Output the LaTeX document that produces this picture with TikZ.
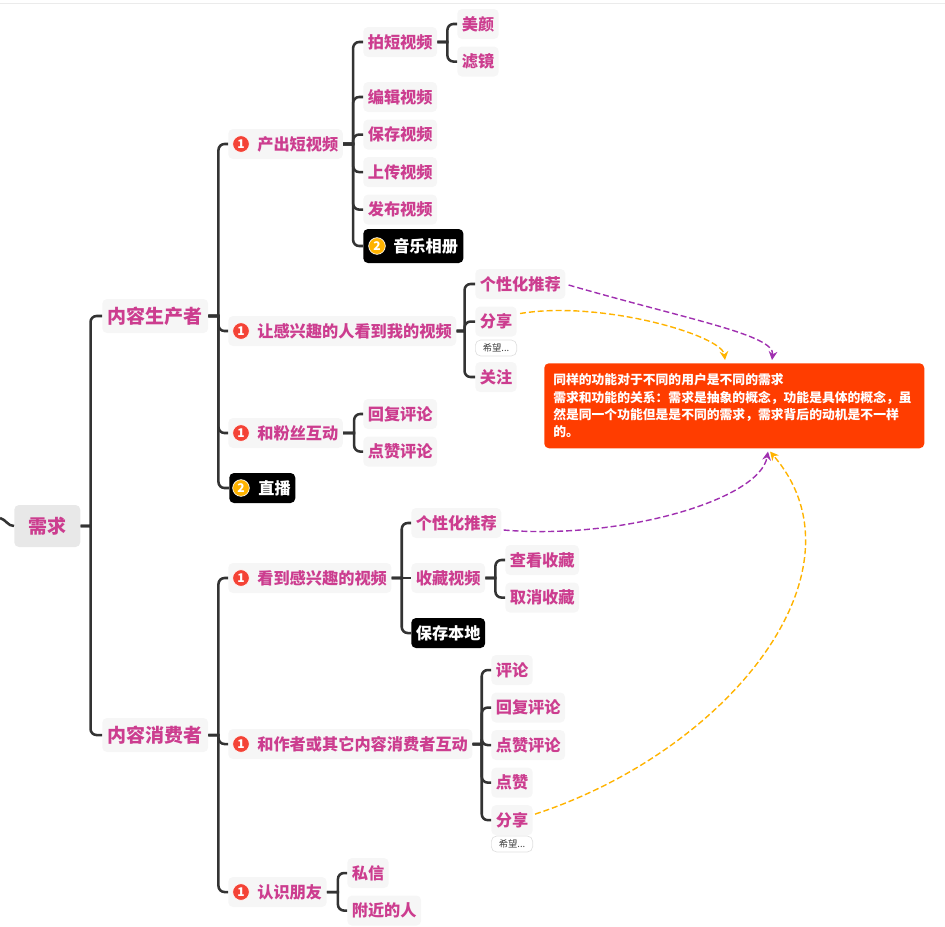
\documentclass[tikz,border=0pt]{standalone}
\usepackage{fontspec}
\usepackage{xcolor}
\usetikzlibrary{arrows.meta, positioning, calc}
\setmainfont{Noto Sans CJK SC}
\definecolor{rosetext}{HTML}{CC3D8F}
\definecolor{boxgray}{HTML}{F6F6F6}
\definecolor{linegray}{HTML}{333333}
\definecolor{notered}{HTML}{FF3D00}
\definecolor{badgered}{HTML}{F44336}
\definecolor{dashpurple}{HTML}{A030B0}
\definecolor{dashamber}{HTML}{FFB300}
\newcommand{\badgegap}{\hspace*{18.4pt}}

\begin{document}
\begin{tikzpicture}[
  x=0.75pt,y=-0.75pt,
  root/.style={rounded corners=3.5pt,fill=black!9,text=rosetext,font=\bfseries\fontsize{14.25}{16}\selectfont,inner xsep=10.5pt,inner ysep=0pt,minimum height=31.5pt,anchor=west},
  topic/.style={rounded corners=3.5pt,fill=boxgray,text=rosetext,font=\bfseries\fontsize{14.25}{16}\selectfont,inner xsep=4.1pt,inner ysep=0pt,minimum height=25.5pt,anchor=west},
  leaf/.style={rounded corners=3.5pt,fill=boxgray,text=rosetext,font=\bfseries\fontsize{12.15}{14}\selectfont,inner xsep=3.4pt,inner ysep=0pt,minimum height=22.5pt,anchor=west},
  blackleaf/.style={leaf,fill=black,text=white},
  under/.style={below=5.25pt of #1.south west,anchor=north west},
  badgeone/.style={circle,draw=white,line width=0.5pt,fill=badgered,text=white,font=\bfseries\fontsize{9}{9}\selectfont,inner sep=0pt,minimum size=12.5pt},
  badgetwo/.style={badgeone,fill=dashamber},
  chip/.style={draw=black!12,line width=0.5pt,rounded corners=4pt,fill=white,text=black!75,font=\fontsize{7}{8}\selectfont,inner xsep=0pt,inner ysep=0pt,minimum width=31pt,minimum height=12pt,anchor=west},
  note/.style={rounded corners=3.5pt,fill=notered,text=white,font=\bfseries\fontsize{9.6}{13}\selectfont,align=left,text width=271.5pt,inner xsep=6.75pt,inner ysep=0pt,minimum height=63.75pt,anchor=north west},
  link/.style={draw=linegray,line width=1.9pt},
  elbow/.style={to path={-- ++(#1,0) [rounded corners=4.5pt] |- (\tikztotarget)}},
  crosslink/.style={-{Stealth[length=6.5pt,width=6.5pt]},dash pattern=on 4.5pt off 2.2pt,line width=1.05pt}]
  \useasboundingbox (0,0) rectangle (945,926);
  \draw[draw=black!8,line width=0.75pt] (0,3) -- (945,3);

  \coordinate (stub) at (0,518);
  \node[root] (need) at (14,526) {需求};
  \node[topic] (maker) at (102,316) {内容生产者};
  \node[topic] (viewer) at (102,735) {内容消费者};

  % producer side
  \node[leaf] (output) at (228,144) {\badgegap 产出短视频};
  \node[leaf] (reach) at (228,331) {\badgegap 让感兴趣的人看到我的视频};
  \node[leaf] (fans) at (228,433) {\badgegap 和粉丝互动};
  \node[blackleaf] (live) at (229,488) {\badgegap 直播};
  \node[badgeone] (outputmark) at ($(output.west)+(13,0)$) {1};
  \node[badgeone] (reachmark) at ($(reach.west)+(13,0)$) {1};
  \node[badgeone] (fansmark) at ($(fans.west)+(13,0)$) {1};
  \node[badgetwo] (livemark) at ($(live.west)+(12,0)$) {2};

  \node[leaf] (shoot) at (363,42) {拍短视频};
  \node[leaf] (beauty) at (457,24) {美颜};
  \node[leaf,under=beauty] (filter) {滤镜};
  \node[leaf] (edit) at (363,97) {编辑视频};
  \node[leaf,under=edit] (savevid) {保存视频};
  \node[leaf,under=savevid] (upload) {上传视频};
  \node[leaf,under=upload] (publish) {发布视频};
  \node[blackleaf,minimum height=25.5pt,inner xsep=4pt] (album) at (363,246) {\hspace*{18.5pt}音乐相册};
  \node[badgetwo] (albummark) at ($(album.west)+(14,0)$) {2};

  \node[leaf] (recommA) at (475,284) {个性化推荐};
  \node[leaf,under=recommA] (shareA) {分享};
  \node[chip] (hopeA) at (475,348) {希望...};
  \node[leaf] (follow) at (475,377) {关注};

  \node[leaf] (replyA) at (363,414) {回复评论};
  \node[leaf,under=replyA] (likecomA) {点赞评论};

  % the note in the middle
  \node[note] (remark) at (544,363) {同样的功能对于不同的用户是不同的需求\\需求和功能的关系：需求是抽象的概念，功能是具体的概念，虽\\然是同一个功能但是是不同的需求，需求背后的动机是不一样\\的。};
  \coordinate (remarkA) at ($(remark.north west)+(228,-3)$);
  \coordinate (remarkB) at ($(remark.north west)+(181,-3)$);
  \coordinate (remarkC) at ($(remark.south west)+(224,3)$);
  \coordinate (remarkD) at ($(remark.south west)+(226,3)$);

  % consumer side
  \node[leaf] (watch) at (228,578) {\badgegap 看到感兴趣的视频};
  \node[leaf] (talk) at (228,744) {\badgegap 和作者或其它内容消费者互动};
  \node[leaf] (friends) at (228,892) {\badgegap 认识朋友};
  \node[badgeone] (watchmark) at ($(watch.west)+(13,0)$) {1};
  \node[badgeone] (talkmark) at ($(talk.west)+(13,0)$) {1};
  \node[badgeone] (friendsmark) at ($(friends.west)+(13,0)$) {1};

  \node[leaf] (recommB) at (411,523) {个性化推荐};
  \node[leaf] (collect) at (411,578) {收藏视频};
  \node[blackleaf] (savelocal) at (411,633) {保存本地};
  \node[leaf] (seecol) at (505,560) {查看收藏};
  \node[leaf,under=seecol] (dropcol) {取消收藏};

  \node[leaf] (comment) at (491,670) {评论};
  \node[leaf,under=comment] (replyB) {回复评论};
  \node[leaf,under=replyB] (likecomB) {点赞评论};
  \node[leaf,under=likecomB] (like) {点赞};
  \node[leaf,under=like] (shareB) {分享};
  \node[chip] (hopeB) at (491,844) {希望...};

  \node[leaf] (letter) at (347,873) {私信};
  \node[leaf,under=letter] (nearby) {附近的人};

  \draw[link] (stub) to[out=-15,in=180] (need.west);
  \draw[link] (need.east) to[elbow=10] (maker.west);
  \draw[link] (need.east) to[elbow=10] (viewer.west);

  \draw[link] (maker.east) to[elbow=10] (output.west);
  \draw[link] (maker.east) to[elbow=10] (reach.west);
  \draw[link] (maker.east) to[elbow=10] (fans.west);
  \draw[link] (maker.east) to[elbow=10] (live.west);
  \draw[link] (output.east) to[elbow=10] (shoot.west);
  \draw[link] (output.east) to[elbow=10] (edit.west);
  \draw[link] (output.east) to[elbow=10] (savevid.west);
  \draw[link] (output.east) to[elbow=10] (upload.west);
  \draw[link] (output.east) to[elbow=10] (publish.west);
  \draw[link] (output.east) to[elbow=10] (album.west);
  \draw[link] (shoot.east) to[elbow=10] (beauty.west);
  \draw[link] (shoot.east) to[elbow=10] (filter.west);
  \draw[link] (reach.east) to[elbow=8] (recommA.west);
  \draw[link] (reach.east) to[elbow=8] (shareA.west);
  \draw[link] (reach.east) to[elbow=8] (follow.west);
  \draw[link] (fans.east) to[elbow=11] (replyA.west);
  \draw[link] (fans.east) to[elbow=11] (likecomA.west);

  \draw[link] (viewer.east) to[elbow=10] (watch.west);
  \draw[link] (viewer.east) to[elbow=10] (talk.west);
  \draw[link] (viewer.east) to[elbow=10] (friends.west);
  \draw[link] (watch.east) to[elbow=10] (recommB.west);
  \draw[link] (watch.east) -- (collect.west);
  \draw[link] (watch.east) to[elbow=10] (savelocal.west);
  \draw[link] (collect.east) to[elbow=10] (seecol.west);
  \draw[link] (collect.east) to[elbow=10] (dropcol.west);
  \draw[link] (talk.east) to[elbow=9] (comment.west);
  \draw[link] (talk.east) to[elbow=9] (replyB.west);
  \draw[link] (talk.east) to[elbow=9] (likecomB.west);
  \draw[link] (talk.east) to[elbow=9] (like.west);
  \draw[link] (talk.east) to[elbow=9] (shareB.west);
  \draw[link] (friends.east) to[elbow=11] (letter.west);
  \draw[link] (friends.east) to[elbow=11] (nearby.west);

  \draw[crosslink,dashpurple] ($(recommA.east)+(3,1)$) .. controls (690,320) and (775,335) .. (remarkA);
  \draw[crosslink,dashamber] ($(shareA.east)+(3,-8)$) .. controls (600,300) and (722,335) .. (remarkB);
  \draw[crosslink,dashpurple] ($(recommB.east)+(2,7)$) .. controls (620,540) and (760,500) .. (remarkC);
  \draw[crosslink,dashamber] ($(shareB.east)+(2,-6)$) .. controls (730,750) and (872,570) .. (remarkD);
\end{tikzpicture}
\end{document}
